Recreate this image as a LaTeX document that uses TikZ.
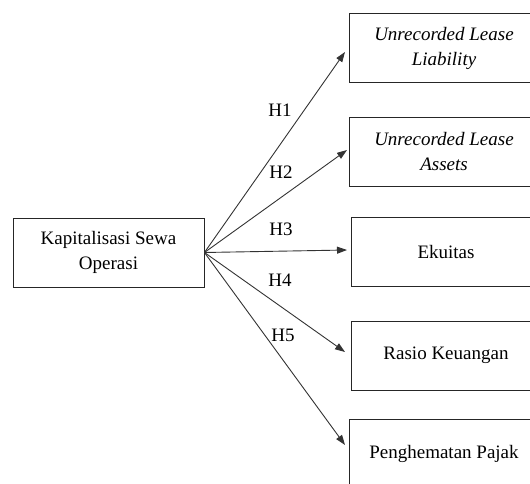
\documentclass[tikz,border=0pt]{standalone}
\usepackage{fontspec}
\setmainfont{Liberation Serif}
\newfontfamily\tnr{Liberation Serif}
\usetikzlibrary{arrows.meta}
\begin{document}
\begin{tikzpicture}[x=1pt,y=-1pt,
  box/.style={draw=black!85, line width=0.9pt, minimum width=190pt, minimum height=69pt,
    align=center, inner sep=0pt, font=\tnr\fontsize{19pt}{25pt}\selectfont},
  conn/.style={draw=black!80, line width=0.9pt, -{Triangle[length=10pt,width=7pt]}},
  hlab/.style={font=\tnr\fontsize{19pt}{22pt}\selectfont, inner sep=0pt}]
\useasboundingbox (0,0) rectangle (530,484);
\clip (0,0) rectangle (530,484);
\node[box, minimum width=191pt] (L) at (108.5,252.5) {Kapitalisasi Sewa\\Operasi};
\node[box] (B1) at (444,48) {\itshape Unrecorded Lease\\\itshape Liability};
\node[box] (B2) at (444,152) {\itshape Unrecorded Lease\\\itshape Assets};
\node[box] (B3) at (446,252) {Ekuitas};
\node[box] (B4) at (446,355.5) {Rasio Keuangan};
\node[box] (B5) at (444,454) {Penghematan Pajak};
\coordinate (t1) at (345,52);
\coordinate (t2) at (347,150);
\coordinate (t3) at (347,250);
\coordinate (t4) at (345,352);
\coordinate (t5) at (345,445);
\draw[conn] (L.east) -- (t1);
\draw[conn] (L.east) -- (t2);
\draw[conn] (L.east) -- (t3);
\draw[conn] (L.east) -- (t4);
\draw[conn] (L.east) -- (t5);
\node[hlab] (h1) at (280,110) {H1};
\node[hlab] (h2) at (281,172) {H2};
\node[hlab] (h3) at (281,229) {H3};
\node[hlab] (h4) at (280,280) {H4};
\node[hlab] (h5) at (283,335) {H5};
\end{tikzpicture}
\end{document}
